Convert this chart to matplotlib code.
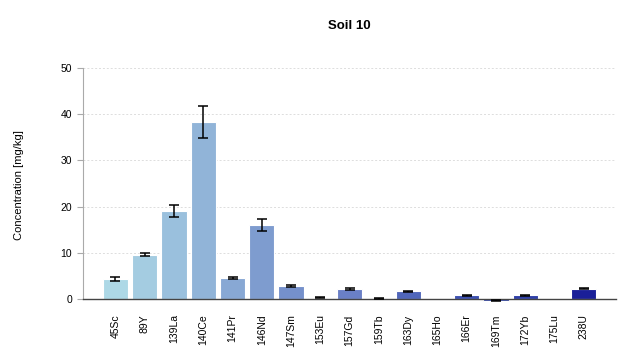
import matplotlib
matplotlib.use('Agg')
import matplotlib.pyplot as plt
from matplotlib.colors import LinearSegmentedColormap
import numpy as np

plt.rcParams.update({
    'font.family': ['Liberation Sans', 'DejaVu Sans'],
    'font.size': 7.5,
})

elements = ['45Sc', '89Y', '139La', '140Ce', '141Pr', '146Nd', '147Sm', '153Eu',
            '157Gd', '159Tb', '163Dy', '165Ho', '166Er', '169Tm', '172Yb',
            '175Lu', '238U']
conc = [4.4, 9.6, 19.0, 38.3, 4.6, 16.1, 2.8, 0.3, 2.2, 0.1, 1.7, 0.0,
        0.8, -0.3, 0.8, 0.0, 2.3]
err = [0.4, 0.35, 1.3, 3.4, 0.3, 1.3, 0.25, 0.1, 0.2, 0.05, 0.15, 0.0,
       0.1, 0.05, 0.1, 0.0, 0.2]

cmap = LinearSegmentedColormap.from_list('soil', [
    (0.0, '#add8e6'), (0.25, '#88a8d4'), (0.375, '#7590cb'), (0.5, '#6a80c6'),
    (0.625, '#5066ba'), (0.75, '#3c50b0'), (0.875, '#2f40a8'), (1.0, '#1a1f98')])
colors = [cmap(i / (len(elements) - 1)) for i in range(len(elements))]

fig = plt.figure(figsize=(6.4, 3.6), dpi=100)
# y from -0.7 to 50: 0 sits at y=299 px, 50 at y=68 px
ax = fig.add_axes([0.130, 0.160, 0.8325, 0.651])

for s in ['top', 'right']:
    ax.spines[s].set_visible(False)
# set the spine position first: it resets the tick labels
ax.spines['bottom'].set_position(('data', 0))
ax.spines['bottom'].set_color('#444444')
ax.spines['bottom'].set_linewidth(1.0)
ax.spines['left'].set_color('#aaaaaa')
ax.spines['left'].set_bounds(0, 50)

x = np.arange(len(elements))
ax.bar(x, conc, width=0.86, color=colors, edgecolor='white', linewidth=0.8, zorder=2)
has_err = [i for i in range(len(err)) if err[i] > 0]
ax.errorbar(x[has_err], [conc[i] for i in has_err], yerr=[err[i] for i in has_err],
            fmt='none', ecolor='black', elinewidth=1.1, capsize=3.5, capthick=1.1,
            zorder=3)

ax.set_xlim(-1.1, 17.1)
ax.set_ylim(-0.7, 50)
ax.set_yticks(range(0, 51, 10))
ax.set_xticks(x)
ax.set_xticklabels(elements, rotation=90)
ax.tick_params(axis='x', length=0, pad=11)
ax.tick_params(axis='y', length=4, color='#aaaaaa', pad=4)
ax.yaxis.grid(True, linestyle=(0, (2, 2)), color='#dddddd', linewidth=0.7, zorder=0)

ax.set_ylabel('Concentration [mg/kg]', labelpad=26, fontsize=8)
ax.set_title('Soil 10', fontsize=9.5, fontweight='bold', pad=28)

fig.savefig('out.png', dpi=100)
plt.close()
